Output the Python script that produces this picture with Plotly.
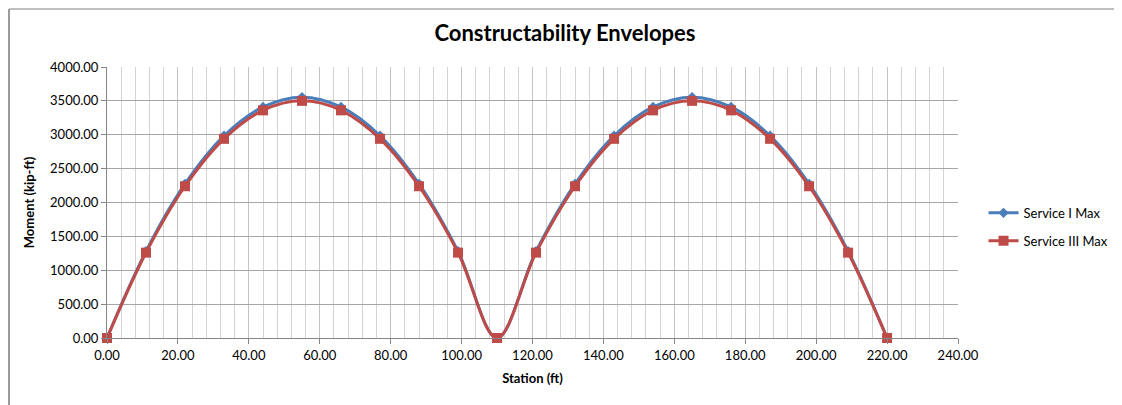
import plotly.graph_objects as go

# Stations (ft) and envelope moments (kip-ft)
station = [0, 11, 22, 33, 44, 55, 66, 77, 88, 99, 110,
           121, 132, 143, 154, 165, 176, 187, 198, 209, 220]
service_i_max = [0, 1280, 2275, 2985, 3410, 3555, 3410, 2985, 2275, 1280, 0,
                 1280, 2275, 2985, 3410, 3555, 3410, 2985, 2275, 1280, 0]
service_iii_max = [0, 1260, 2240, 2940, 3360, 3500, 3360, 2940, 2240, 1260, 0,
                   1260, 2240, 2940, 3360, 3500, 3360, 2940, 2240, 1260, 0]

# page body has an 8px margin, so the figure is sized to the remaining window
W, H = 1114, 397
L, R, T, B = 99, 164, 59, 67
FONT = "Lato, Carlito, 'Liberation Sans', sans-serif"

fig = go.Figure()

fig.add_trace(go.Scatter(
    x=station, y=service_i_max, name="Service I Max", legendgroup="s1",
    mode="lines+markers", cliponaxis=False,
    line=dict(color="#4a7ebb", width=3, shape="spline", smoothing=1),
    marker=dict(symbol="diamond", size=8, color="#4a7ebb"),
))
fig.add_trace(go.Scatter(
    x=station, y=service_iii_max, name="Service III Max", legendgroup="s3",
    mode="lines+markers", cliponaxis=False,
    line=dict(color="#be4b48", width=3, shape="spline", smoothing=1),
    marker=dict(symbol="square", size=10, color="#be4b48"),
))

fig.update_xaxes(
    range=[0, 240], tick0=0, dtick=20, tickformat=".2f", automargin=False,
    showgrid=True, gridcolor="#c4c4c4", gridwidth=1,
    minor=dict(dtick=4, showgrid=True, gridcolor="#d4d4d4", gridwidth=1),
    showline=True, linecolor="#868686", linewidth=1,
    ticks="outside", ticklen=5, tickcolor="#868686",
    tickfont=dict(size=13),
    zeroline=False,
    title=dict(text="<b>Station (ft)</b>", font=dict(size=13), standoff=12),
)
fig.update_yaxes(
    range=[0, 4000], tick0=0, dtick=500, tickformat=".2f", automargin=False,
    showgrid=True, gridcolor="#a6a6a6", gridwidth=1,
    showline=True, linecolor="#868686", linewidth=1,
    ticks="outside", ticklen=5, tickcolor="#868686",
    tickfont=dict(size=13),
    zeroline=False,
    title=dict(text="<b>Moment (kip-ft)</b>", font=dict(size=13), standoff=12),
)

# chart frame: only the top and left edges show in the reference
pw, ph = W - L - R, H - T - B
fig.add_shape(type="line", xref="paper", yref="paper",
              x0=(1 - L) / pw, x1=(W - L) / pw, y0=(H - 1 - B) / ph, y1=(H - 1 - B) / ph,
              line=dict(color="#bfbfbf", width=2), layer="below")
fig.add_shape(type="line", xref="paper", yref="paper",
              x0=(1 - L) / pw, x1=(1 - L) / pw, y0=-B / ph, y1=(H - 1 - B) / ph,
              line=dict(color="#9a9a9a", width=2), layer="below")

fig.update_layout(
    width=W, height=H,
    margin=dict(l=L, r=R, t=T, b=B, autoexpand=False),
    plot_bgcolor="white", paper_bgcolor="white",
    font=dict(family=FONT, size=12, color="black"),
    title=dict(text="<b>Constructability Envelopes</b>", x=0.5, xanchor="center",
               y=1 - 25 / H, yanchor="middle", font=dict(size=22)),
    legend=dict(x=1.03, y=0.41, xanchor="left", yanchor="middle",
                bgcolor="rgba(0,0,0,0)", font=dict(size=13), tracegroupgap=8),
    showlegend=True,
)

fig.write_html("out.html")
